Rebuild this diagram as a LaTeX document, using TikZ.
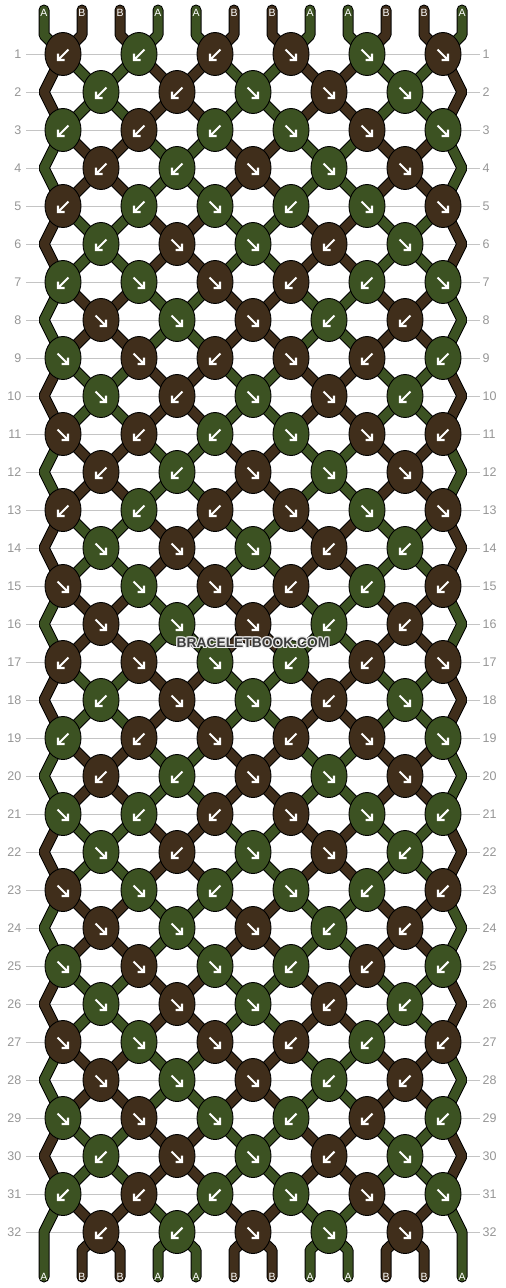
\documentclass[tikz,border=0pt]{standalone}
\usepackage{fontspec}
\setmainfont{Liberation Sans}
\usetikzlibrary{shapes.geometric}
\pgfdeclarelayer{grid}
\pgfdeclarelayer{strings}
\pgfsetlayers{grid,strings,main}
\definecolor{grn}{RGB}{60,82,34}
\definecolor{brn}{RGB}{64,46,27}
\definecolor{gridgray}{RGB}{196,196,196}
\definecolor{numgray}{RGB}{150,150,150}
\definecolor{wmgray}{RGB}{60,60,60}
\definecolor{wmhalo}{RGB}{235,235,235}
\newcommand\segcol[2]{%
  \pgfmathtruncatemacro\segq{floor((#1+1)/2)}%
  \pgfmathtruncatemacro\segm{mod(#2,4)}%
  \pgfmathtruncatemacro\sega{(\segm==0)||(\segm==1)}%
  \pgfmathtruncatemacro\segc{mod(\sega+\segq,2)}%
  \ifnum\segc=1 \def\cc{grn}\else\def\cc{brn}\fi}
\begin{document}
\begin{tikzpicture}[x=1pt,y=-1pt,
  knot/.style={ellipse,draw=black,line width=0.9pt,minimum width=36pt,minimum height=43pt,inner sep=0pt},
  arr/.style={draw=white,line width=2.1pt},
  strpass1/.style={draw=black,line width=11pt},
  strpass2/.style={line width=9pt},
  str/.style={line cap=round,line join=bevel},
  num/.style={text=numgray,font=\fontsize{12.5}{12.5}\selectfont,inner sep=0pt},
  lab/.style={text=white,font=\fontsize{10.5}{10.5}\selectfont,inner sep=0pt},
  wm/.style={font=\bfseries\fontsize{13.8}{13.8}\selectfont,inner sep=0pt}]
\useasboundingbox (0,0) rectangle (506,1288);
\begin{pgfonlayer}{grid}
\fill[white] (0,0) rectangle (506,1288);
\foreach \r in {1,...,32}{
  \pgfmathsetmacro\ky{16+38*\r}
  \draw[gridgray,line width=1pt] (26,\ky) -- (480,\ky);
}
\end{pgfonlayer}
% row numbers
\foreach \r in {1,...,32}{
  \pgfmathsetmacro\ky{16+38*\r}
  \node[num,anchor=east] (nl\r) at (21.5,\ky) {\r};
  \node[num,anchor=west] (nr\r) at (482.5,\ky) {\r};
}
% knots
\foreach \r/\row in {
 1/{B/L,G/L,B/L,B/R,G/R,B/R},
 2/{G/L,B/L,G/R,B/R,G/R},
 3/{G/L,B/L,G/L,G/R,B/R,G/R},
 4/{B/L,G/L,B/R,G/R,B/R},
 5/{B/L,G/L,G/R,G/L,G/R,B/R},
 6/{G/L,B/R,G/R,B/L,G/R},
 7/{G/L,G/R,B/R,B/L,G/L,G/R},
 8/{B/R,G/R,B/R,G/L,B/L},
 9/{G/R,B/R,B/L,B/R,B/L,G/L},
 10/{G/R,B/L,G/R,B/R,G/L},
 11/{B/R,B/L,G/L,G/R,B/R,B/L},
 12/{B/L,G/L,B/R,G/R,B/R},
 13/{B/L,G/L,B/L,B/R,G/R,B/R},
 14/{G/R,B/R,G/R,B/L,G/L},
 15/{B/R,G/R,B/R,B/L,G/L,B/L},
 16/{B/R,G/R,B/R,G/L,B/L},
 17/{B/L,B/R,G/R,G/L,B/L,B/R},
 18/{G/L,B/R,G/R,B/L,G/R},
 19/{G/L,B/L,B/R,B/L,B/R,G/R},
 20/{B/L,G/L,B/R,G/R,B/R},
 21/{G/R,G/L,B/L,B/R,G/R,G/L},
 22/{G/R,B/L,G/R,B/R,G/L},
 23/{B/R,G/R,G/L,G/R,G/L,B/L},
 24/{B/R,G/R,B/R,G/L,B/L},
 25/{G/R,B/R,G/R,G/L,B/L,G/L},
 26/{G/R,B/R,G/R,B/L,G/L},
 27/{B/R,G/R,B/R,B/L,G/L,B/L},
 28/{B/R,G/R,B/R,G/L,B/L},
 29/{G/R,B/R,G/R,G/L,B/L,G/L},
 30/{G/L,B/R,G/R,B/L,G/R},
 31/{G/L,B/L,G/L,G/R,B/R,G/R},
 32/{B/L,G/L,B/R,G/R,B/R}}{
  \pgfmathtruncatemacro\odd{mod(\r,2)}
  \pgfmathsetmacro\ky{16+38*\r}
  \ifnum\odd=0
    \coordinate (eL\r) at (44,\ky);
    \coordinate (eR\r) at (462,\ky);
  \fi
  \foreach \c/\a [count=\j] in \row {
    \pgfmathsetmacro\kx{101-38*\odd+76*(\j-1)}
    \if\c G\def\kc{grn}\else\def\kc{brn}\fi
    \node[knot,fill=\kc] (k\r-\j) at (\kx,\ky) {};
    \if\a L
      \draw[arr] (k\r-\j.center) ++(5.5,-4.5) -- ++(-10.5,10.5) ++(0,-6.5) -- ++(0,6.5) -- ++(6.5,0);
    \else
      \draw[arr] (k\r-\j.center) ++(-5.5,-4.5) -- ++(10.5,10.5) ++(0,-6.5) -- ++(0,6.5) -- ++(-6.5,0);
    \fi
  }
}
% end points and labels
\foreach \p in {1,...,12}{
  \pgfmathsetmacro\px{44+38*(\p-1)}
  \coordinate (t\p) at (\px,10);
  \coordinate (tb\p) at (\px,35);
  \coordinate (bb\p) at (\px,1250);
  \coordinate (b\p) at (\px,1277);
  \pgfmathtruncatemacro\la{(mod(\p,4)==0)||(mod(\p,4)==1)}
  \ifnum\la=1 \def\lt{A}\else\def\lt{B}\fi
  \node[lab] (lt\p) at (\px,12.5) {\lt};
  \node[lab] (lb\p) at (\px,1276.5) {\lt};
}
% strings
\begin{pgfonlayer}{strings}
\foreach \pass in {1,2}{
  \foreach \p in {1,...,12}{
    \segcol{0}{\p}
    \pgfmathtruncatemacro\jj{(\p+1)/2}
    \draw[str,draw=\cc,strpass\pass] (t\p) -- (tb\p) -- (k1-\jj.center);
  }
  \foreach \r in {1,3,...,31}{
    \pgfmathtruncatemacro\rn{\r+1}
    \foreach \j in {2,...,6}{
      \pgfmathtruncatemacro\pp{2*\j-1}
      \pgfmathtruncatemacro\jm{\j-1}
      \segcol{\r}{\pp}
      \draw[str,draw=\cc,strpass\pass] (k\r-\j.center) -- (k\rn-\jm.center);
    }
    \foreach \j in {1,...,5}{
      \pgfmathtruncatemacro\pp{2*\j}
      \segcol{\r}{\pp}
      \draw[str,draw=\cc,strpass\pass] (k\r-\j.center) -- (k\rn-\j.center);
    }
  }
  \foreach \r in {2,4,...,30}{
    \pgfmathtruncatemacro\rn{\r+1}
    \foreach \kk in {1,...,5}{
      \pgfmathtruncatemacro\pp{2*\kk}
      \pgfmathtruncatemacro\pq{2*\kk+1}
      \pgfmathtruncatemacro\kp{\kk+1}
      \segcol{\r}{\pp}
      \draw[str,draw=\cc,strpass\pass] (k\r-\kk.center) -- (k\rn-\kk.center);
      \segcol{\r}{\pq}
      \draw[str,draw=\cc,strpass\pass] (k\r-\kk.center) -- (k\rn-\kp.center);
    }
  }
  \foreach \r in {1,3,...,29}{
    \pgfmathtruncatemacro\rn{\r+1}
    \pgfmathtruncatemacro\rnn{\r+2}
    \segcol{\r}{1}
    \draw[str,draw=\cc,strpass\pass] (k\r-1.center) -- (eL\rn) -- (k\rnn-1.center);
    \segcol{\r}{12}
    \draw[str,draw=\cc,strpass\pass] (k\r-6.center) -- (eR\rn) -- (k\rnn-6.center);
  }
  \segcol{31}{1}
  \draw[str,draw=\cc,strpass\pass] (k31-1.center) -- (eL32) -- (b1);
  \segcol{31}{12}
  \draw[str,draw=\cc,strpass\pass] (k31-6.center) -- (eR32) -- (b12);
  \foreach \kk in {1,...,5}{
    \pgfmathtruncatemacro\pp{2*\kk}
    \pgfmathtruncatemacro\pq{2*\kk+1}
    \segcol{32}{\pp}
    \draw[str,draw=\cc,strpass\pass] (k32-\kk.center) -- (bb\pp) -- (b\pp);
    \segcol{32}{\pq}
    \draw[str,draw=\cc,strpass\pass] (k32-\kk.center) -- (bb\pq) -- (b\pq);
  }
}
\end{pgfonlayer}
% watermark
\foreach \dx/\dy [count=\i] in {-1/-1,0/-1,1/-1,-1/0,1/0,-1/1,0/1,1/1}{
  \node[wm,text=wmhalo] (wmh\i) at (253+\dx,643+\dy) {BRACELETBOOK.COM};
}
\node[wm,text=wmgray] (wm) at (253,643) {BRACELETBOOK.COM};
\end{tikzpicture}
\end{document}
